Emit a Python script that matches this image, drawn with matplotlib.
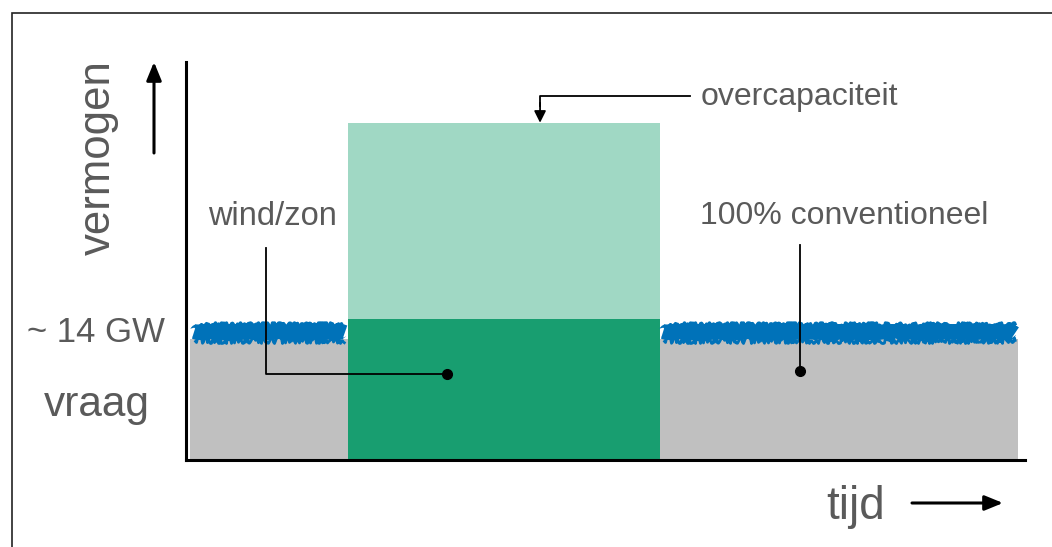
import matplotlib.pyplot as plt
from matplotlib.patches import Rectangle

plt.rcParams['font.family'] = ['Liberation Sans', 'DejaVu Sans']

# tijdvakken (x in % van de getoonde tijd)
periode_start = [0.5, 19.3, 56.5]
periode_eind = [19.3, 56.5, 99.2]
conventioneel_gw = [13.3, 0, 13.3]
wind_zon_gw = [0, 15.6, 0]
overcapaciteit_gw = [0, 21.6, 0]
vraag_gw = 14

GRIJS = '#c0c0c0'
DONKERGROEN = '#189e70'
LICHTGROEN = '#a0d8c4'
BLAUW = '#0072b9'
TEKST = '#5a5a5a'

W, H = 1052, 547
fig = plt.figure(figsize=(W / 100, H / 100), dpi=100)
ax = fig.add_axes([186 / W, 87 / H, 839 / W, 398 / H])
ax.set_xlim(0, 100)
ax.set_ylim(0, 43.9)

breedte = [e - s for s, e in zip(periode_start, periode_eind)]
ax.bar(periode_start, conventioneel_gw, breedte, align='edge', color=GRIJS, zorder=1)
ax.bar(periode_start, wind_zon_gw, breedte, align='edge', color=DONKERGROEN, zorder=1)
ax.bar(periode_start, overcapaciteit_gw, breedte, bottom=wind_zon_gw, align='edge',
       color=LICHTGROEN, zorder=1)

# rafelige "vraag"-band boven het conventionele deel
lagen = [(10, 0.1, (1.2, 4, 6)), (2.5, 0.9, (2.5, 2, 10)), (2, -0.8, (3, 2, 12))]
for s, e, c in zip(periode_start, periode_eind, conventioneel_gw):
    if c == 0:
        continue
    for lw, dy, sk in lagen:
        ln, = ax.plot([s + 0.4, e - 0.4], [vraag_gw + dy] * 2, color=BLAUW, lw=lw,
                      solid_capstyle='butt', zorder=2)
        ln.set_sketch_params(*sk)

for side in ['top', 'right']:
    ax.spines[side].set_visible(False)
for side in ['left', 'bottom']:
    ax.spines[side].set_linewidth(2.2)
    ax.spines[side].set_zorder(5)
ax.set_xticks([])
ax.set_yticks([])
ax.patch.set_alpha(0)

# annotaties
ax.plot([9.5, 9.5, 31.1], [23.4, 9.5, 9.5], color='black', lw=1.3, zorder=4)
ax.plot([31.1], [9.5], 'o', color='black', ms=7, zorder=4)
ax.plot([73.2, 73.2], [23.7, 9.8], color='black', lw=1.3, zorder=4)
ax.plot([73.2], [9.8], 'o', color='black', ms=7, zorder=4)
ax.plot([60.1, 42.2, 42.2], [40.1, 40.1, 39.0], color='black', lw=1.3, zorder=4)
ax.annotate('', xy=(42.2, 37.2), xytext=(42.2, 39.4),
            arrowprops=dict(arrowstyle='-|>,head_length=0.7,head_width=0.35',
                            color='black', lw=1.3, shrinkA=0, shrinkB=0))

ax.text(10.3, 26.9, 'wind/zon', ha='center', va='center', fontsize=23.5, color=TEKST)
ax.text(78.4, 26.9, '100% conventioneel', ha='center', va='center', fontsize=23, color=TEKST)
ax.text(61.3, 40.0, 'overcapaciteit', ha='left', va='center', fontsize=23, color=TEKST)

# teksten en pijlen buiten de assen (figuur-pixels)
fig.text(96 / W, 1 - 333 / H, '~ 14 GW', ha='center', va='center', fontsize=25, color=TEKST)
fig.text(97 / W, 1 - 405 / H, 'vraag', ha='center', va='center', fontsize=30.5, color=TEKST)
fig.text(98 / W, 1 - 158 / H, 'vermogen', ha='center', va='center', rotation=90,
         fontsize=31.5, color=TEKST)
fig.text(856 / W, 1 - 507 / H, 'tijd', ha='center', va='center', fontsize=33, color=TEKST)

pijl = dict(arrowstyle='-|>,head_length=1.1,head_width=0.45', color='black', lw=2.2,
            shrinkA=0, shrinkB=0)
fig.add_artist(plt.Annotation('', xy=(154 / W, 1 - 62 / H), xytext=(154 / W, 1 - 153 / H),
                              xycoords='figure fraction', arrowprops=pijl))
fig.add_artist(plt.Annotation('', xy=(1003 / W, 1 - 503 / H), xytext=(912 / W, 1 - 503 / H),
                              xycoords='figure fraction', arrowprops=pijl))

# kader
fig.add_artist(Rectangle((12 / W, -0.1), 1.2, (1 - 13 / H) + 0.1, transform=fig.transFigure,
                         fill=False, edgecolor='#222222', lw=1.2))

fig.savefig('out.png', dpi=100)
